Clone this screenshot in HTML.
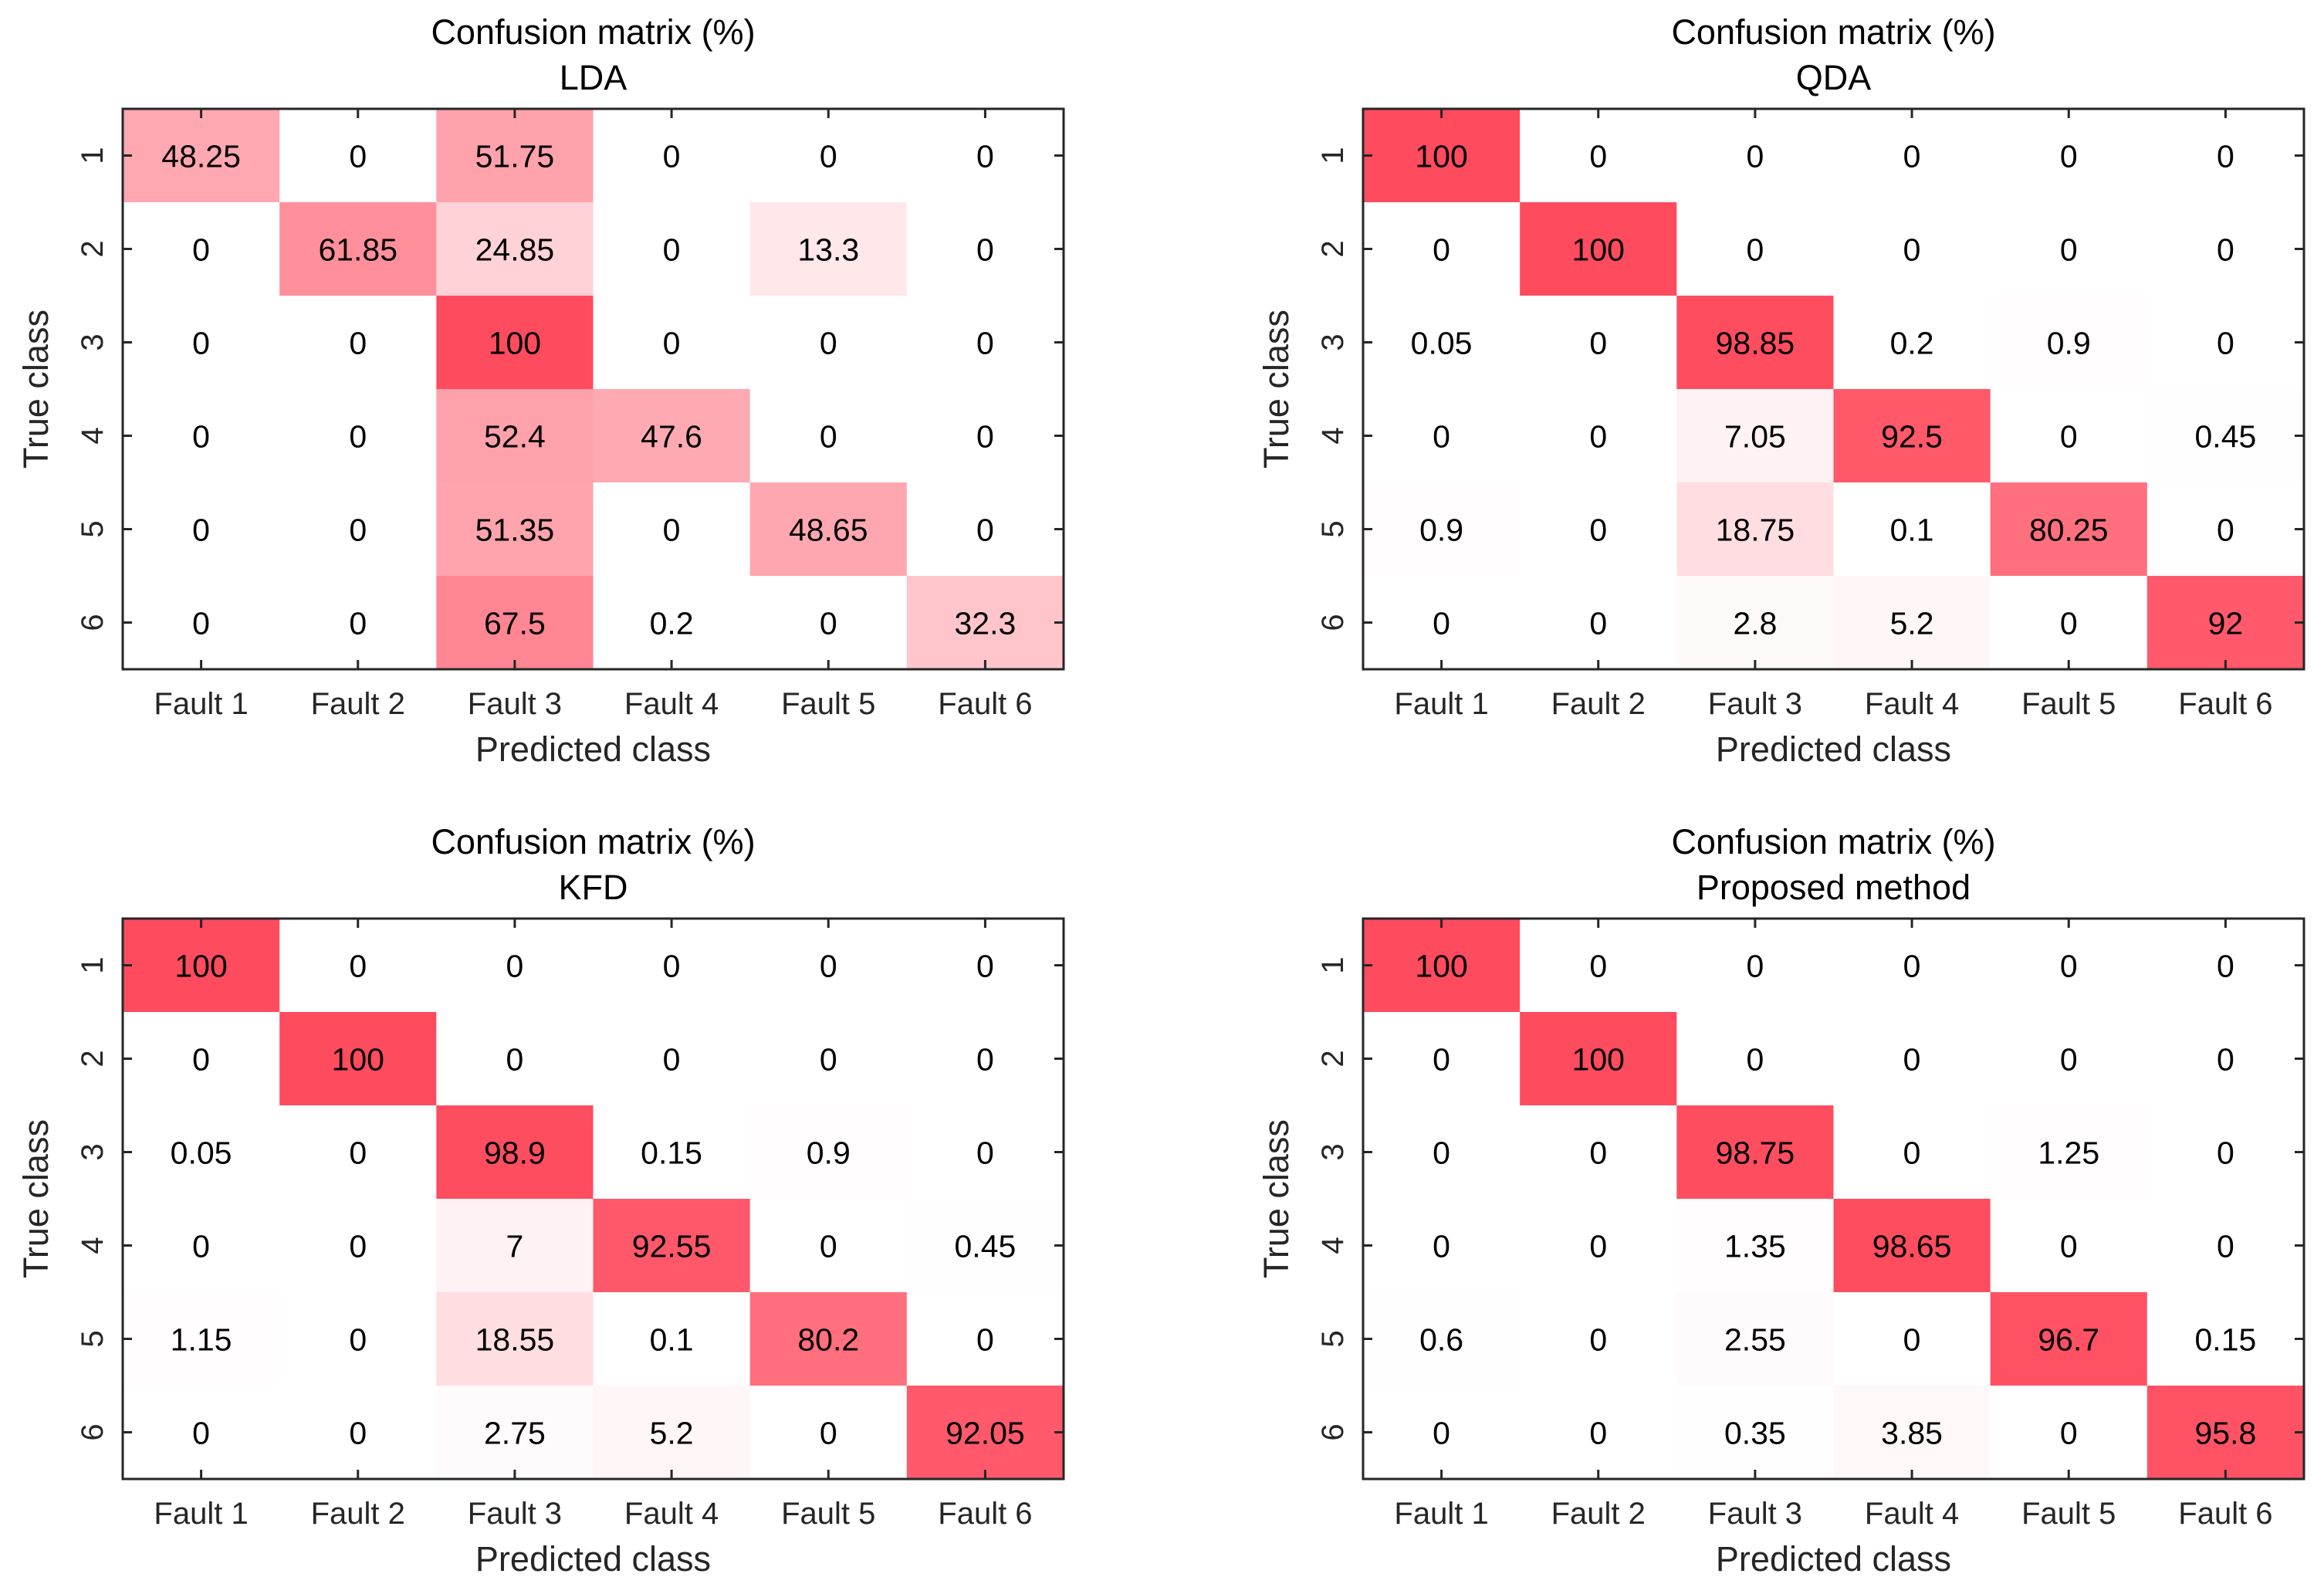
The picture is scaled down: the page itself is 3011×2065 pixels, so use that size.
<!DOCTYPE html>
<html><head><meta charset="utf-8"><style>
html,body{margin:0;padding:0;background:#fff;}
svg{display:block;font-family:"Liberation Sans",Arial,sans-serif;}
</style></head><body>
<svg id="fig" xmlns="http://www.w3.org/2000/svg" width="3011" height="2065" viewBox="0 0 3011 2065"></svg>
<script>
const classes = ["Fault 1","Fault 2","Fault 3","Fault 4","Fault 5","Fault 6"];
const rowLabels = ["1","2","3","4","5","6"];
const methods = ["LDA","QDA","KFD","Proposed method"];
const ldaValues = [
 [48.25,0,51.75,0,0,0],
 [0,61.85,24.85,0,13.3,0],
 [0,0,100,0,0,0],
 [0,0,52.4,47.6,0,0],
 [0,0,51.35,0,48.65,0],
 [0,0,67.5,0.2,0,32.3]];
const qdaValues = [
 [100,0,0,0,0,0],
 [0,100,0,0,0,0],
 [0.05,0,98.85,0.2,0.9,0],
 [0,0,7.05,92.5,0,0.45],
 [0.9,0,18.75,0.1,80.25,0],
 [0,0,2.8,5.2,0,92]];
const kfdValues = [
 [100,0,0,0,0,0],
 [0,100,0,0,0,0],
 [0.05,0,98.9,0.15,0.9,0],
 [0,0,7,92.55,0,0.45],
 [1.15,0,18.55,0.1,80.2,0],
 [0,0,2.75,5.2,0,92.05]];
const proposedValues = [
 [100,0,0,0,0,0],
 [0,100,0,0,0,0],
 [0,0,98.75,0,1.25,0],
 [0,0,1.35,98.65,0,0],
 [0.6,0,2.55,0,96.7,0.15],
 [0,0,0.35,3.85,0,95.8]];

const NS = "http://www.w3.org/2000/svg";
const svg = document.getElementById('fig');
function mk(tag, attrs, parent){
  const e = document.createElementNS(NS, tag);
  for (const k in attrs) e.setAttribute(k, attrs[k]);
  parent.appendChild(e); return e;
}
function color(v){
  const t = Math.max(0, Math.min(1, v/100));
  const r = 255, g = Math.round(255 - t*(255-75)), b = Math.round(255 - t*(255-94));
  return `rgb(${r},${g},${b})`;
}
const panels = [
  {x:159, y:141, data:ldaValues, name:methods[0]},
  {x:1766, y:141, data:qdaValues, name:methods[1]},
  {x:159, y:1190, data:kfdValues, name:methods[2]},
  {x:1766, y:1190, data:proposedValues, name:methods[3]}
];
const W = 1219, H = 726;
panels.forEach((p, pi) => {
  const g = mk('g', {}, svg);
  
  
  const nC = classes.length, nR = rowLabels.length;
  const cw = W / nC, ch = H / nR;
  const xs = i => p.x + i * cw;
  const ys = j => p.y + j * ch;
  for (let r = 0; r < nR; r++) for (let c = 0; c < nC; c++) {
    const v = p.data[r][c];
    const rect = mk('rect', {x:xs(c), y:ys(r), width:cw+0.5, height:ch+0.5, fill:color(v)}, g);
    
    
    const t = mk('text', {x:xs(c)+cw/2, y:ys(r)+ch/2+15, 'text-anchor':'middle', 'font-size':41, fill:'#000'}, g);
    t.textContent = String(v);
    
    
  }
  const fr = mk('rect', {x:p.x, y:p.y, width:W, height:H, fill:'none', stroke:'#262626', 'stroke-width':3}, g);
  
  
  for (let c = 0; c < nC; c++) {
    const cx = xs(c) + cw/2;
    mk('line', {x1:cx, y1:p.y+H, x2:cx, y2:p.y+H-12, stroke:'#262626', 'stroke-width':3}, g);
    mk('line', {x1:cx, y1:p.y, x2:cx, y2:p.y+12, stroke:'#262626', 'stroke-width':3}, g);
    const t = mk('text', {x:cx, y:p.y+H+58, 'text-anchor':'middle', 'font-size':40, fill:'#262626'}, g);
    t.textContent = classes[c];
    
    
  }
  for (let r = 0; r < nR; r++) {
    const cy = ys(r) + ch/2;
    mk('line', {x1:p.x, y1:cy, x2:p.x+12, y2:cy, stroke:'#262626', 'stroke-width':3}, g);
    mk('line', {x1:p.x+W, y1:cy, x2:p.x+W-12, y2:cy, stroke:'#262626', 'stroke-width':3}, g);
    const tx = p.x - 26;
    const t = mk('text', {x:tx, y:cy, 'text-anchor':'middle', 'font-size':40, fill:'#262626', transform:`rotate(-90 ${tx} ${cy})`}, g);
    t.textContent = rowLabels[r];
    
    
  }
  const t1 = mk('text', {x:p.x+W/2, y:p.y-84, 'text-anchor':'middle', 'font-size':45, fill:'#000'}, g);
  t1.textContent = 'Confusion matrix (%)';
  
  
  const t2 = mk('text', {x:p.x+W/2, y:p.y-25, 'text-anchor':'middle', 'font-size':45, fill:'#000'}, g);
  t2.textContent = p.name;
  
  
  const xl = mk('text', {x:p.x+W/2, y:p.y+H+119, 'text-anchor':'middle', 'font-size':45, fill:'#262626'}, g);
  xl.textContent = 'Predicted class';
  
  
  const ylx = p.x - 97, yly = p.y + H/2;
  const yl = mk('text', {x:ylx, y:yly, 'text-anchor':'middle', 'font-size':45, fill:'#262626', transform:`rotate(-90 ${ylx} ${yly})`}, g);
  yl.textContent = 'True class';
  
  
});
</script>
</body></html>
